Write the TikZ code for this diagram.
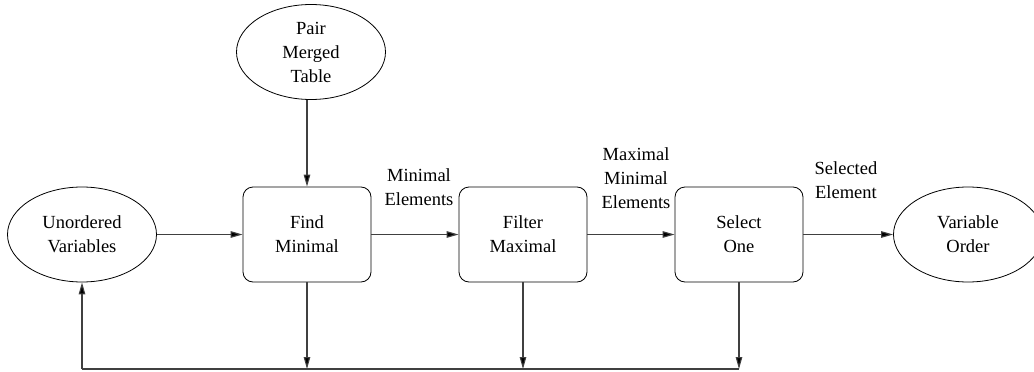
\documentclass[tikz,border=0pt]{standalone}
\usepackage{fontspec}
\setmainfont{Liberation Serif}
\usetikzlibrary{shapes.geometric,arrows.meta}
\begin{document}
\begin{tikzpicture}[x=1pt,y=-1pt,
  every node/.style={font=\fontsize{18.5}{24}\selectfont, align=center},
  ellnode/.style={ellipse, draw=black, line width=0.8pt, minimum width=149pt, minimum height=95pt, inner sep=0pt},
  boxnode/.style={rectangle, rounded corners=10pt, draw=black, line width=0.8pt, minimum width=128pt, minimum height=95pt, inner sep=0pt},
  conn/.style={draw=black!75, line width=1.1pt, -{Triangle[length=12pt,width=6.5pt,fill=black]}},
  plain/.style={draw=black!75, line width=1.1pt},
  lbl/.style={inner sep=0pt}]
\useasboundingbox (0,0) rectangle (1034,372);
\clip (0,0) rectangle (1034,372);
\node[ellnode] (uv) at (82,234.5) {Unordered\\Variables};
\node[ellnode] (pmt) at (311,52) {Pair\\Merged\\Table};
\node[boxnode] (fm) at (307,234.5) {Find\\Minimal};
\node[boxnode] (fx) at (523,234.5) {Filter\\Maximal};
\node[boxnode] (so) at (739,234.5) {Select\\One};
\node[ellnode] (vo) at (968,234.5) {Variable\\Order};
\node[lbl] (l1) at (419,187) {Minimal\\Elements};
\node[lbl] (l2) at (636,178) {Maximal\\Minimal\\Elements};
\node[lbl] (l3) at (846,180) {Selected\\Element};
\coordinate (bl) at (82,369);
\coordinate (b1) at (307,369);
\coordinate (b2) at (523,369);
\coordinate (b3) at (739,369);
\draw[conn] (uv) -- (fm);
\draw[conn] (fm) -- (fx);
\draw[conn] (fx) -- (so);
\draw[conn] (so) -- (vo);
\draw[conn] (pmt.south -| fm.north) -- (fm.north);
\draw[conn] (fm.south) -- (b1);
\draw[conn] (fx.south) -- (b2);
\draw[conn] (so.south) -- (b3);
\draw[plain] (b3) -- (bl);
\draw[conn] (bl) -- (uv.south);
\end{tikzpicture}
\end{document}
